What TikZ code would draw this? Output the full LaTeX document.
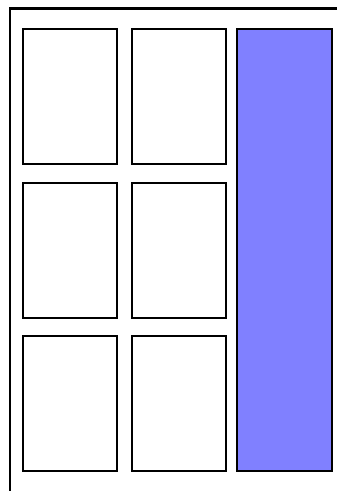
\documentclass[tikz,border=0pt]{standalone}
\usetikzlibrary{positioning}
\definecolor{panelblue}{RGB}{128,128,255}

\begin{document}
\begin{tikzpicture}[x=1pt, y=-1pt, line width=2pt]
\tikzset{cell/.style={draw, rectangle, inner sep=0pt, minimum width=94pt, minimum height=135pt}, side/.style={draw, fill=panelblue, rectangle, inner sep=0pt, minimum width=95pt, minimum height=442pt}}
\useasboundingbox (0,0) rectangle (337,491);
\coordinate (fbl) at (10,492); \coordinate (ftl) at (10,8.5); \coordinate (ftr) at (338,8.5);
\draw[line width=2.8pt] (fbl) -- (ftl) -- (ftr);
\node[cell] (c11) at (69.5,96.5) {}; \node[cell] (c12) at (178.5,96.5) {};
\node[cell] (c21) at (69.5,250) {}; \node[cell] (c22) at (178.5,250) {};
\node[cell] (c31) at (69.5,403) {}; \node[cell] (c32) at (178.5,403) {};
\node[side] (panel) at (284.5,250) {};
\end{tikzpicture}
\end{document}
